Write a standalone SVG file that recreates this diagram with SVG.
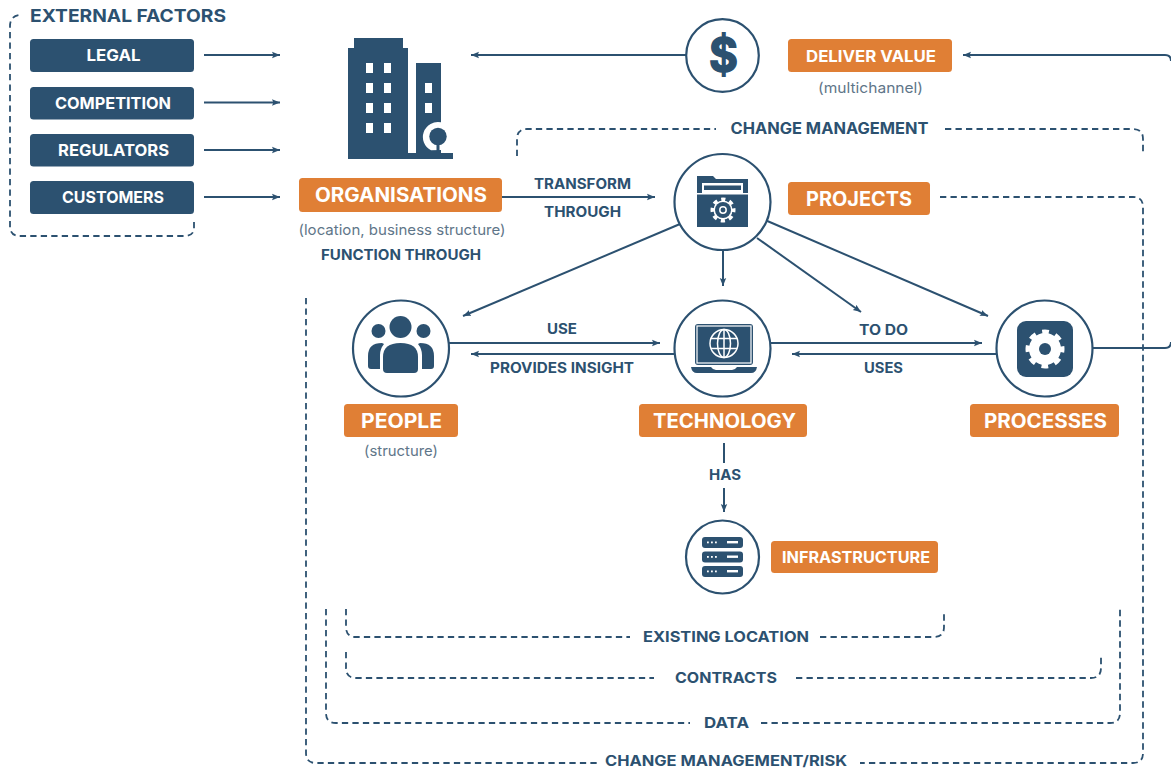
<svg xmlns="http://www.w3.org/2000/svg" width="1171" height="769" viewBox="0 0 1171 769">
<style>
text{font-family:Inter,"Liberation Sans",sans-serif;text-anchor:middle}
.w{fill:#fff;font-weight:700}
.n{fill:#2c5170;font-weight:700}
.s{fill:#5f7689;font-weight:400;font-size:14.5px}
.nb{fill:#2c5170}
.ob{fill:#e07f35}
.c{fill:#fff;stroke:#2c5170;stroke-width:2.2}
.l{fill:none;stroke:#2c5170;stroke-width:2}
.a{marker-end:url(#ah)}
.d{fill:none;stroke:#2c5170;stroke-width:1.8;stroke-dasharray:6.3 4.2}
</style>
<defs>
<marker id="ah" markerUnits="userSpaceOnUse" markerWidth="9" markerHeight="8" refX="8" refY="4" orient="auto"><path d="M0 0.8L8 4L0 7.2L1.4 4Z" fill="#2c5170"/></marker>
</defs>
<rect width="1171" height="769" fill="#fff"/>

<g id="connectors">
<path class="l a" d="M204 55H280"/>
<path class="l a" d="M204 102.500H280"/>
<path class="l a" d="M204 150H280"/>
<path class="l a" d="M204 197H280"/>
<path class="l a" d="M686 55H471"/>
<path class="l a" d="M1165 55H963"/>
<path class="l" d="M1165 55Q1171 55 1171 61"/>
<path class="l" d="M1092 348H1165Q1171 348 1171 342"/>
<path class="l a" d="M502 197H655"/>
<path class="l a" d="M680 224L463 316"/>
<path class="l a" d="M723 250V286"/>
<path class="l a" d="M757 238L861 312"/>
<path class="l a" d="M765 220L988 316"/>
<path class="l a" d="M449 343H660"/>
<path class="l a" d="M674 354H471"/>
<path class="l a" d="M771 343H982"/>
<path class="l a" d="M997 354H792"/>
<path class="l" d="M724 443V463"/>
<path class="l a" d="M724 488V512"/>
<path class="d" d="M194 222V228Q194 236 184 236H20Q10 236 10 226V26Q10 16 20 15"/>
<path class="d" d="M517 156V139Q517 129 527 129H716"/>
<path class="d" d="M945 129H1133Q1143 129 1143 139V153"/>
<path class="d" d="M940 197H1133Q1143 197 1143 207V753Q1143 763 1133 763H860"/>
<path class="d" d="M306 298V753Q306 763 316 763H597"/>
<path class="d" d="M326 609V713Q326 723 336 723H690"/>
<path class="d" d="M761 723H1110Q1120 723 1120 713V609"/>
<path class="d" d="M346 609V627Q346 637 356 637H630"/>
<path class="d" d="M820 637H934Q944 637 944 627V614"/>
<path class="d" d="M346 652V668Q346 678 356 678H654"/>
<path class="d" d="M796 678H1091Q1101 678 1101 668V655"/>
</g>

<g id="external-factors"><text class="n" x="128" y="22" font-size="17.500" textLength="196" lengthAdjust="spacingAndGlyphs">EXTERNAL FACTORS</text></g>
<g id="legal"><rect class="nb" x="30" y="39" width="164" height="33" rx="3.500"/><text class="w" x="113.500" y="61" font-size="16" textLength="54" lengthAdjust="spacingAndGlyphs">LEGAL</text></g>
<g id="competition"><rect class="nb" x="30" y="87" width="164" height="32.500" rx="3.500"/><text class="w" x="113" y="109" font-size="16" textLength="116" lengthAdjust="spacingAndGlyphs">COMPETITION</text></g>
<g id="regulators"><rect class="nb" x="30" y="134" width="164" height="32.500" rx="3.500"/><text class="w" x="113.500" y="156" font-size="16" textLength="111" lengthAdjust="spacingAndGlyphs">REGULATORS</text></g>
<g id="customers"><rect class="nb" x="30" y="181" width="164" height="33" rx="3.500"/><text class="w" x="113" y="203" font-size="16" textLength="102" lengthAdjust="spacingAndGlyphs">CUSTOMERS</text></g>

<g id="organisations">
<path class="nb" d="M354 38H403V48H408V153H416V63H441V153H453V159H348V48H354Z"/>
<g fill="#fff">
<rect x="366" y="63" width="7" height="10"/><rect x="384" y="63" width="7" height="10"/>
<rect x="366" y="83" width="7" height="10"/><rect x="384" y="83" width="7" height="10"/>
<rect x="366" y="103" width="7" height="10"/><rect x="384" y="103" width="7" height="10"/>
<rect x="366" y="123" width="7" height="10"/><rect x="384" y="123" width="7" height="10"/>
<rect x="425" y="83" width="7" height="10"/><rect x="425" y="103" width="7" height="10"/>
</g>
<path fill="#fff" d="M441 122.300A15 15 0 0 0 431 150.300L441 150Z"/>
<circle class="nb" cx="438" cy="136.500" r="8.700"/><rect class="nb" x="436.500" y="142" width="3" height="12"/>
<rect class="ob" x="299" y="178" width="203" height="34" rx="3.500"/>
<text class="w" x="401" y="202" font-size="19.500" textLength="172" lengthAdjust="spacingAndGlyphs">ORGANISATIONS</text>
<text class="s" x="402" y="235" textLength="207" lengthAdjust="spacingAndGlyphs">(location, business structure)</text>
<text class="n" x="401" y="259.500" font-size="14.500" textLength="160" lengthAdjust="spacingAndGlyphs">FUNCTION THROUGH</text>
</g>

<g id="deliver-value">
<circle class="c" cx="722.500" cy="55.500" r="36.300"/>
<text class="n" x="723.500" y="72" font-size="48" font-weight="900" stroke="#2c5170" stroke-width="1.500" textLength="29" lengthAdjust="spacingAndGlyphs">$</text>
<rect class="ob" x="788" y="39" width="164" height="33" rx="3.500"/>
<text class="w" x="871" y="61.500" font-size="16" textLength="130" lengthAdjust="spacingAndGlyphs">DELIVER VALUE</text>
<text class="s" x="870.500" y="93" textLength="105" lengthAdjust="spacingAndGlyphs">(multichannel)</text>
</g>

<g id="change-management"><text class="n" x="829.500" y="134" font-size="15.500" textLength="198" lengthAdjust="spacingAndGlyphs">CHANGE MANAGEMENT</text></g>

<g id="projects">
<circle class="c" cx="722.500" cy="202" r="48"/>
<path class="nb" d="M697 176H713L716 179H748V193H697Z"/>
<path fill="#fff" d="M702 183H743V193H702Z"/>
<path class="nb" d="M704 185.500H741V190H704Z"/>
<rect class="nb" x="697" y="194.500" width="51" height="32.500"/>
<circle cx="723" cy="210" r="10.700" fill="none" stroke="#fff" stroke-width="3.600" stroke-dasharray="4.200 4.200" stroke-dashoffset="2.100"/>
<circle cx="723" cy="210" r="9.600" fill="#fff"/>
<circle class="nb" cx="723" cy="210" r="8"/>
<circle cx="723" cy="210" r="3.200" fill="none" stroke="#fff" stroke-width="1.500"/>
<rect class="ob" x="788" y="182" width="142" height="33" rx="3.500"/>
<text class="w" x="859" y="206" font-size="19.500" textLength="106" lengthAdjust="spacingAndGlyphs">PROJECTS</text>
</g>

<g id="edge-labels">
<text class="n" x="582.500" y="188.500" font-size="14.500" textLength="97" lengthAdjust="spacingAndGlyphs">TRANSFORM</text>
<text class="n" x="582.500" y="217" font-size="14.500" textLength="77" lengthAdjust="spacingAndGlyphs">THROUGH</text>
<text class="n" x="562" y="334" font-size="14" textLength="30" lengthAdjust="spacingAndGlyphs">USE</text>
<text class="n" x="562" y="373" font-size="14" textLength="144" lengthAdjust="spacingAndGlyphs">PROVIDES INSIGHT</text>
<text class="n" x="883.500" y="335" font-size="14" textLength="49" lengthAdjust="spacingAndGlyphs">TO DO</text>
<text class="n" x="883.500" y="373" font-size="14" textLength="39" lengthAdjust="spacingAndGlyphs">USES</text>
<text class="n" x="725" y="480" font-size="14" textLength="32" lengthAdjust="spacingAndGlyphs">HAS</text>
</g>

<g id="people">
<circle class="c" cx="401" cy="348.500" r="48"/>
<circle class="nb" cx="400.500" cy="327" r="11"/><circle class="nb" cx="378.500" cy="331" r="7"/><circle class="nb" cx="423.500" cy="331" r="7"/>
<path class="nb" d="M383 369V357Q383 343 400.500 343Q418 343 418 357V369Q418 373 414 373H387Q383 373 383 369Z"/>
<path class="nb" d="M382 343Q368 343 368 356V366Q368 369 371 369H380V355Q380 349 384 344Z"/>
<path class="nb" d="M420 343Q434 343 434 356V366Q434 369 431 369H422V355Q422 349 418 344Z"/>
<rect class="ob" x="344" y="404" width="114" height="33" rx="3.500"/>
<text class="w" x="401.500" y="428" font-size="19.500" textLength="81" lengthAdjust="spacingAndGlyphs">PEOPLE</text>
<text class="s" x="401" y="456" textLength="74" lengthAdjust="spacingAndGlyphs">(structure)</text>
</g>

<g id="technology">
<circle class="c" cx="722.500" cy="348.500" r="48"/>
<rect class="nb" x="695" y="324" width="58" height="41" rx="3"/>
<rect x="697" y="326" width="54" height="37" fill="none" stroke="#fff" stroke-width="1.200"/>
<path class="nb" d="M691 367H711Q713 370 716 370H732Q735 370 737 367H757Q756 373 751 373H697Q692 373 691 367Z"/>
<g fill="none" stroke="#fff" stroke-width="1.500">
<circle cx="724" cy="343.500" r="14"/><ellipse cx="724" cy="343.500" rx="6.500" ry="14"/><path d="M724 329.500V357.500M711 338.500H737M711 348.500H737"/>
</g>
<rect class="ob" x="639" y="404" width="168" height="33" rx="3.500"/>
<text class="w" x="724.500" y="428" font-size="19.500" textLength="143" lengthAdjust="spacingAndGlyphs">TECHNOLOGY</text>
</g>

<g id="processes">
<circle class="c" cx="1044.500" cy="348.500" r="48"/>
<rect class="nb" x="1017" y="321" width="56" height="56" rx="9"/>
<circle cx="1045" cy="349" r="16" fill="#fff"/>
<circle cx="1045" cy="349" r="16.500" fill="none" stroke="#fff" stroke-width="6" stroke-dasharray="6.480 6.480" stroke-dashoffset="3.240"/>
<circle class="nb" cx="1045" cy="349" r="6"/>
<rect class="ob" x="970" y="404" width="149" height="33" rx="3.500"/>
<text class="w" x="1045.500" y="428" font-size="19.500" textLength="123" lengthAdjust="spacingAndGlyphs">PROCESSES</text>
</g>

<g id="infrastructure">
<circle class="c" cx="722.500" cy="557" r="36.500"/>
<rect class="nb" x="702" y="537" width="41" height="11" rx="3"/>
<rect class="nb" x="702" y="551.500" width="41" height="11" rx="3"/>
<rect class="nb" x="702" y="566" width="41" height="11" rx="3"/>
<g fill="#fff">
<rect x="707" y="541.500" width="1.800" height="1.800"/><rect x="711" y="541.500" width="1.800" height="1.800"/><rect x="715" y="541.500" width="1.800" height="1.800"/><rect x="727" y="541" width="11" height="2.400"/>
<rect x="707" y="556" width="1.800" height="1.800"/><rect x="711" y="556" width="1.800" height="1.800"/><rect x="715" y="556" width="1.800" height="1.800"/><rect x="727" y="555.500" width="11" height="2.400"/>
<rect x="707" y="570.500" width="1.800" height="1.800"/><rect x="711" y="570.500" width="1.800" height="1.800"/><rect x="715" y="570.500" width="1.800" height="1.800"/><rect x="727" y="570" width="11" height="2.400"/>
</g>
<rect class="ob" x="771" y="541" width="167" height="32" rx="3.500"/>
<text class="w" x="856" y="563" font-size="16" textLength="148" lengthAdjust="spacingAndGlyphs">INFRASTRUCTURE</text>
</g>

<g id="scope-labels">
<text class="n" x="726" y="642" font-size="15" textLength="166" lengthAdjust="spacingAndGlyphs">EXISTING LOCATION</text>
<text class="n" x="726" y="683" font-size="15" textLength="102" lengthAdjust="spacingAndGlyphs">CONTRACTS</text>
<text class="n" x="726.500" y="728" font-size="15" textLength="45" lengthAdjust="spacingAndGlyphs">DATA</text>
<text class="n" x="726" y="766" font-size="14" textLength="242" lengthAdjust="spacingAndGlyphs">CHANGE MANAGEMENT/RISK</text>
</g>
</svg>
